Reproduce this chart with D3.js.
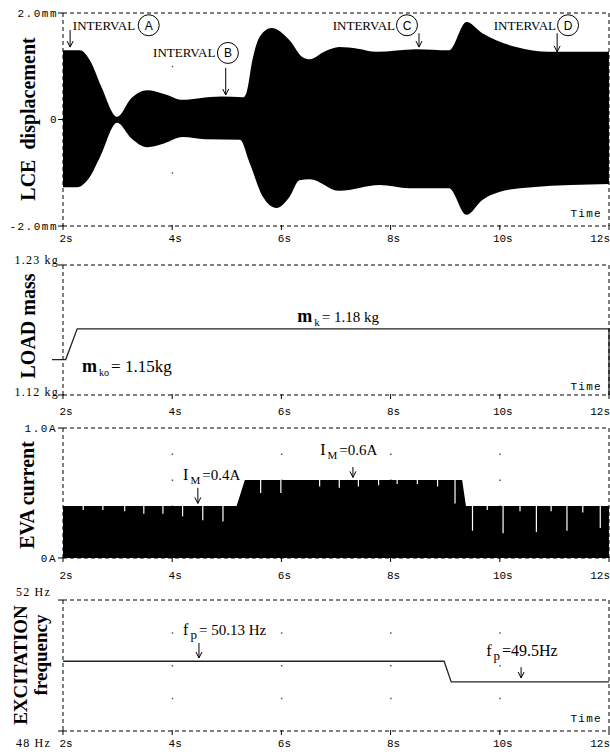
<!DOCTYPE html>
<html>
<head>
<meta charset="utf-8">
<script src="https://cdn.jsdelivr.net/npm/d3@7"></script>
<style>
body{margin:0;background:#fff}
svg{display:block}
</style>
</head>
<body>
<svg id="chart" width="610" height="752"></svg>
<script>
// time axis
var timeTicks = [2, 4, 6, 8, 10, 12];
var timeLabels = ["2s", "4s", "6s", "8s", "10s", "12s"];

// LCE displacement, envelope of the oscillation (mm)
var upperT = [2.0, 2.31, 2.5, 2.7, 2.99, 3.25, 3.54, 3.85, 4.19, 4.5, 4.9, 5.3, 5.36, 5.47, 5.6, 5.82, 6.15, 6.39, 6.52, 6.8, 7.06, 7.4, 7.74, 8.47, 9.07, 9.39, 9.68, 10.3, 10.9, 12.0];
var upperV = [1.30, 1.30, 1.10, 0.62, 0.05, 0.40, 0.55, 0.48, 0.37, 0.40, 0.43, 0.42, 0.50, 1.12, 1.55, 1.72, 1.49, 1.17, 1.13, 1.28, 1.36, 1.33, 1.27, 1.32, 1.30, 1.83, 1.62, 1.36, 1.27, 1.27];
var lowerT = [2.0, 2.26, 2.49, 2.68, 2.99, 3.25, 3.54, 3.85, 4.19, 4.6, 5.24, 5.42, 5.66, 5.91, 6.15, 6.33, 6.52, 7.06, 7.8, 8.34, 9.07, 9.39, 9.68, 9.99, 10.59, 12.0];
var lowerV = [-1.27, -1.27, -1.08, -0.70, -0.06, -0.35, -0.52, -0.45, -0.33, -0.37, -0.38, -0.82, -1.45, -1.66, -1.45, -1.14, -1.12, -1.34, -1.23, -1.29, -1.29, -1.79, -1.51, -1.36, -1.27, -1.21];

// LOAD mass (kg)
var massT = [1.8, 2.05, 2.26, 12, 12];
var massV = [1.15, 1.15, 1.176, 1.176, 1.12];

// EVA current (A)
var currT = [2, 5.18, 5.33, 9.31, 9.38, 12];
var currV = [0.4, 0.4, 0.6, 0.6, 0.4, 0.4];
var dipT = [2.37, 2.73, 3.13, 3.48, 3.83, 4.19, 4.56, 4.93, 5.62, 5.99, 6.70, 7.06, 7.41, 7.78, 8.12, 8.49, 8.86, 9.18, 9.50, 9.77, 10.06, 10.37, 10.67, 10.94, 11.23, 11.52, 11.84];
var dipDepth = [0.03, 0.03, 0.04, 0.06, 0.06, 0.08, 0.11, 0.12, 0.10, 0.10, 0.05, 0.06, 0.05, 0.04, 0.03, 0.03, 0.05, 0.18, 0.19, 0.03, 0.21, 0.04, 0.20, 0.04, 0.19, 0.05, 0.17];

// EXCITATION frequency (Hz)
var freqT = [2, 8.98, 9.11, 12];
var freqV = [50.13, 50.13, 49.5, 49.5];

var svg = d3.select("#chart");
var x = d3.scaleLinear().domain([2, 12]).range([63, 609]);

// yLabels: [value, text, vertical shift of the text]
var panels = [
  {top: 13, bottom: 226, domain: [-2, 2], title: ["LCE  displacement"], titleX: [28], titleY: [119], titleSize: 20,
   yLabels: [[2, "2.0mm", 0], [0, "0", 0], [-2, "-2.0mm", 0]], labelRight: 58, grid: [-1, 0, 1], labelY: 242, time: 217, mono: true},
  {top: 265, bottom: 395, domain: [1.12, 1.23], title: ["LOAD mass"], titleX: [28], titleY: [326], titleSize: 20,
   yLabels: [[1.23, "1.23 kg", -5], [1.12, "1.12 kg", -3]], labelRight: 59, grid: [], labelY: 415, time: 390, mono: false},
  {top: 428, bottom: 558, domain: [0, 1], title: ["EVA current"], titleX: [27], titleY: [495], titleSize: 20,
   yLabels: [[1, "1.0A", 0], [0, "0A", 0]], labelRight: 57, grid: [0.2, 0.4, 0.6, 0.8], labelY: 579, time: null, mono: true},
  {top: 600, bottom: 731, domain: [48, 52], title: ["EXCITATION", "frequency"], titleX: [20, 40], titleY: [665, 655], titleSize: 19,
   yLabels: [[52, "52 Hz", -8], [48, "48 Hz", 12]], labelRight: 51, grid: [49, 50, 51], labelY: 747, time: 722, mono: false}
];

panels.forEach(function(p) {
  p.y = d3.scaleLinear().domain(p.domain).range([p.bottom, p.top]);
  var g = svg.append("g");
  p.g = g;

  // grid dots
  timeTicks.slice(1, 5).forEach(function(t) {
    p.grid.forEach(function(v) {
      g.append("rect").attr("x", x(t) - 0.5).attr("y", p.y(v) - 0.5)
        .attr("width", 1.5).attr("height", 1.5).attr("fill", "#555");
    });
  });
});

// --- panel 1: LCE displacement, filled between the two envelopes
var p1 = panels[0];
var upPts = upperT.map(function(t, i) { return [t, upperV[i]]; });
var lowPts = lowerT.map(function(t, i) { return [t, lowerV[i]]; });
var envUp = d3.area().curve(d3.curveMonotoneX)
  .x(function(d) { return x(d[0]); })
  .y0(p1.y(0) + 1)
  .y1(function(d) { return p1.y(d[1]); });
var envLow = d3.area().curve(d3.curveMonotoneX)
  .x(function(d) { return x(d[0]); })
  .y0(p1.y(0) - 1)
  .y1(function(d) { return p1.y(d[1]); });
p1.g.append("path").datum(upPts).attr("d", envUp).attr("fill", "#000");
p1.g.append("path").datum(lowPts).attr("d", envLow).attr("fill", "#000");

// --- panel 2: LOAD mass
var p2 = panels[1];
p2.g.append("path")
  .datum(massT.map(function(t, i) { return [t, massV[i]]; }))
  .attr("d", d3.line().x(function(d) { return x(d[0]); }).y(function(d) { return p2.y(d[1]); }))
  .attr("fill", "none").attr("stroke", "#222").attr("stroke-width", 1.3);

// --- panel 3: EVA current
var p3 = panels[2];
var curr = currT.map(function(t, i) { return [t, currV[i]]; });
p3.g.append("path").datum(curr)
  .attr("d", d3.area().x(function(d) { return x(d[0]); }).y0(p3.y(0)).y1(function(d) { return p3.y(d[1]); }))
  .attr("fill", "#000");
var level = d3.scaleLinear().domain(currT).range(currV);
p3.g.selectAll(".dip").data(dipT).enter().append("line")
  .attr("x1", function(d) { return x(d); })
  .attr("x2", function(d) { return x(d); })
  .attr("y1", function(d) { return p3.y(level(d)) - 0.5; })
  .attr("y2", function(d, i) { return p3.y(level(d) - dipDepth[i]); })
  .attr("stroke", "#fff").attr("stroke-width", 1.2);

// --- panel 4: EXCITATION frequency
var p4 = panels[3];
p4.g.append("path")
  .datum(freqT.map(function(t, i) { return [t, freqV[i]]; }))
  .attr("d", d3.line().x(function(d) { return x(d[0]); }).y(function(d) { return p4.y(d[1]); }))
  .attr("fill", "none").attr("stroke", "#222").attr("stroke-width", 1.3);

// --- frames, ticks and labels
panels.forEach(function(p) {
  var g = p.g;
  var dash = "4,3";
  [[x(2), p.top, x(12), p.top], [x(2), p.bottom, x(12), p.bottom],
   [x(2), p.top, x(2), p.bottom], [x(12), p.top, x(12), p.bottom]].forEach(function(s) {
    g.append("line").attr("x1", s[0]).attr("y1", s[1]).attr("x2", s[2]).attr("y2", s[3])
      .attr("stroke", "#000").attr("stroke-width", 1).attr("stroke-dasharray", dash);
  });

  g.selectAll(".xt").data(timeTicks).enter().append("line")
    .attr("x1", function(d) { return x(d); }).attr("x2", function(d) { return x(d); })
    .attr("y1", p.bottom - 1).attr("y2", p.bottom + 4)
    .attr("stroke", "#000");

  g.selectAll(".xl").data(timeTicks).enter().append("text")
    .attr("x", function(d, i) { return i == timeTicks.length - 1 ? 610 : x(d) + 3; })
    .attr("y", p.labelY)
    .attr("text-anchor", function(d, i) { return i == timeTicks.length - 1 ? "end" : "middle"; })
    .attr("font-family", "Liberation Mono, monospace")
    .attr("font-size", 11)
    .text(function(d, i) { return timeLabels[i]; });

  p.yLabels.forEach(function(l) {
    var yy = p.y(l[0]);
    g.append("line").attr("x1", x(2) - 5).attr("x2", x(2)).attr("y1", yy).attr("y2", yy).attr("stroke", "#000");
    g.append("text")
      .attr("x", p.labelRight)
      .attr("y", yy + l[2])
      .attr("dy", "0.35em")
      .attr("text-anchor", "end")
      .attr("font-family", p.mono ? "Liberation Mono, monospace" : "Liberation Serif, serif")
      .attr("font-size", p.mono ? 11 : 12)
      .attr("letter-spacing", p.mono ? 1.5 : 1.2)
      .text(l[1]);
  });

  p.title.forEach(function(t, i) {
    g.append("text")
      .attr("transform", "translate(" + p.titleX[i] + "," + p.titleY[i] + ") rotate(-90)")
      .attr("text-anchor", "middle")
      .attr("dominant-baseline", "central")
      .attr("font-family", "Liberation Serif, serif")
      .attr("font-weight", "bold")
      .attr("font-size", p.titleSize)
      .attr("xml:space", "preserve")
      .text(t);
  });

  if (p.time) {
    g.append("text").attr("x", 602).attr("y", p.time)
      .attr("text-anchor", "end")
      .attr("font-family", "Liberation Mono, monospace")
      .attr("font-size", 11).attr("letter-spacing", 1.3)
      .text("Time");
  }
});

// arrows
function arrow(p, t, v0, v1) {
  var ax = x(t), a = p.y(v0), b = p.y(v1);
  p.g.append("line").attr("x1", ax).attr("x2", ax).attr("y1", a).attr("y2", b)
    .attr("stroke", "#000").attr("stroke-width", 1);
  p.g.append("path").attr("d", "M" + (ax - 3) + "," + (b - 6) + "L" + ax + "," + b + "L" + (ax + 3) + "," + (b - 6))
    .attr("fill", "none").attr("stroke", "#000").attr("stroke-width", 1);
}

// interval annotations in panel 1
var intervals = [
  {label: "A", textT: 2.18, textV: 1.68, circT: 3.57, circV: 1.77, arrowT: 2.13, a0: 1.68, a1: 1.36},
  {label: "B", textT: 3.65, textV: 1.17, circT: 5.02, circV: 1.25, arrowT: 4.98, a0: 0.97, a1: 0.46},
  {label: "C", textT: 6.94, textV: 1.68, circT: 8.30, circV: 1.77, arrowT: 8.52, a0: 1.62, a1: 1.36},
  {label: "D", textT: 9.89, textV: 1.68, circT: 11.25, circV: 1.77, arrowT: 11.05, a0: 1.62, a1: 1.27}
];
intervals.forEach(function(d) {
  p1.g.append("text").attr("x", x(d.textT)).attr("y", p1.y(d.textV))
    .attr("font-family", "Liberation Serif, serif").attr("font-size", 13)
    .text("INTERVAL");
  p1.g.append("circle").attr("cx", x(d.circT)).attr("cy", p1.y(d.circV)).attr("r", 10.5)
    .attr("fill", "#fff").attr("stroke", "#000").attr("stroke-width", 1);
  p1.g.append("text").attr("x", x(d.circT)).attr("y", p1.y(d.circV)).attr("dy", "0.36em")
    .attr("text-anchor", "middle")
    .attr("font-family", "Liberation Sans, sans-serif").attr("font-size", 12)
    .text(d.label);
  arrow(p1, d.arrowT, d.a0, d.a1);
});

// subscript labels
function subLabel(p, t, v, main, sub, rest, sizes) {
  var tx = p.g.append("text").attr("x", x(t)).attr("y", p.y(v))
    .attr("font-family", "Liberation Serif, serif");
  tx.append("tspan").attr("font-size", sizes[0]).attr("font-weight", sizes[3] ? "bold" : "normal").text(main);
  tx.append("tspan").attr("font-size", sizes[1]).attr("dx", 2).attr("dy", 4).text(sub);
  tx.append("tspan").attr("font-size", sizes[2]).attr("dx", 2).attr("dy", -4).text(rest);
}

subLabel(p2, 6.29, 1.1818, "m", "k", "= 1.18 kg", [18, 11, 15, true]);
subLabel(p2, 2.35, 1.1395, "m", "ko", "= 1.15kg", [18, 10, 17, true]);

subLabel(p3, 4.2, 0.6, "I", "M", "=0.4A", [16, 11, 15]);
arrow(p3, 4.47, 0.54, 0.42);
subLabel(p3, 6.71, 0.79, "I", "M", "=0.6A", [16, 11, 15]);
arrow(p3, 7.31, 0.70, 0.62);

subLabel(p4, 4.2, 50.93, "f", "p", "= 50.13 Hz", [16, 13, 15]);
arrow(p4, 4.49, 50.69, 50.23);
subLabel(p4, 9.75, 50.29, "f", "p", "=49.5Hz", [16, 13, 16]);
arrow(p4, 10.39, 49.95, 49.62);
</script>
</body>
</html>
